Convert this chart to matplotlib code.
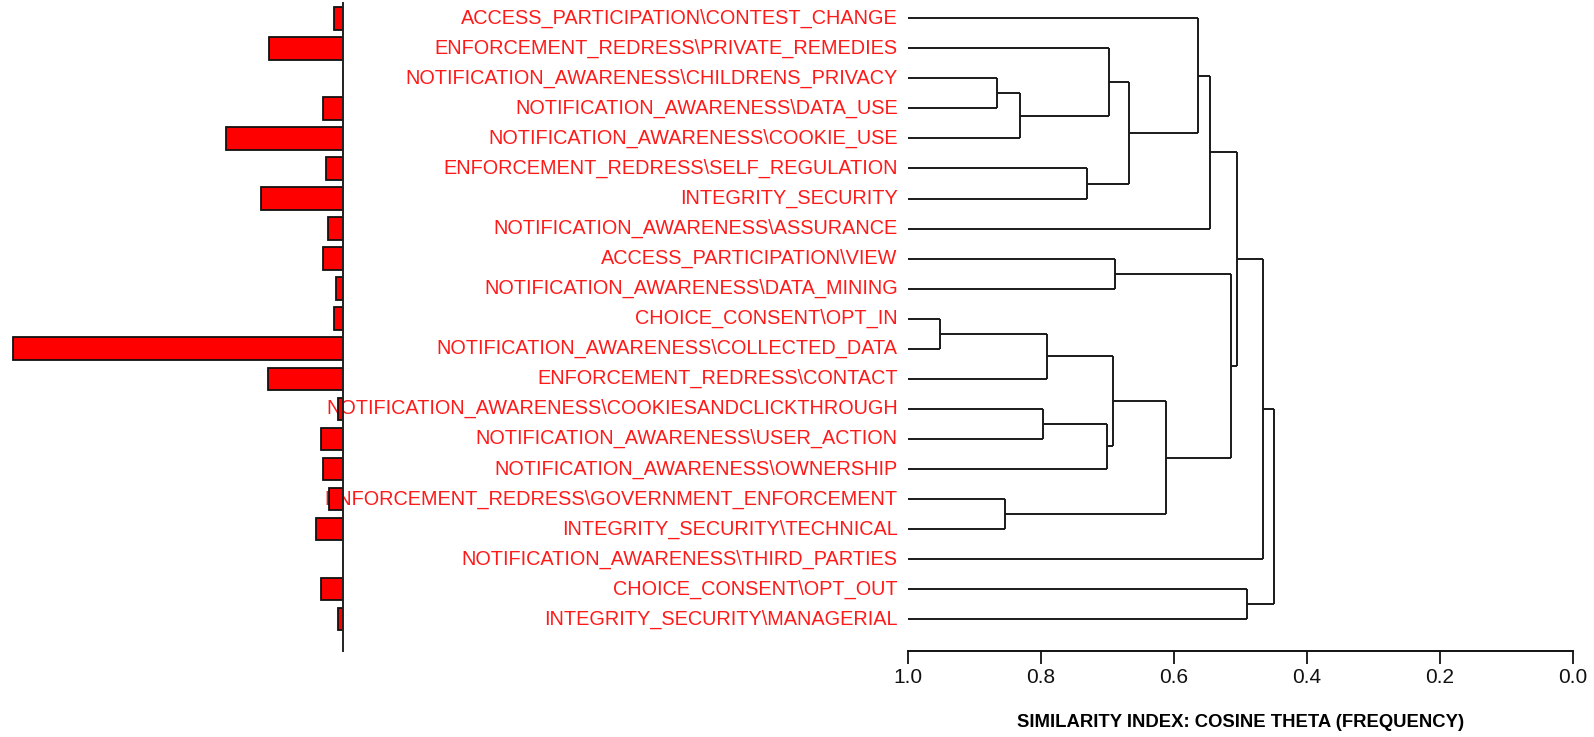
import matplotlib
matplotlib.use("Agg")
import matplotlib.pyplot as plt
from matplotlib import font_manager

labels = [
    "ACCESS_PARTICIPATION\\CONTEST_CHANGE",
    "ENFORCEMENT_REDRESS\\PRIVATE_REMEDIES",
    "NOTIFICATION_AWARENESS\\CHILDRENS_PRIVACY",
    "NOTIFICATION_AWARENESS\\DATA_USE",
    "NOTIFICATION_AWARENESS\\COOKIE_USE",
    "ENFORCEMENT_REDRESS\\SELF_REGULATION",
    "INTEGRITY_SECURITY",
    "NOTIFICATION_AWARENESS\\ASSURANCE",
    "ACCESS_PARTICIPATION\\VIEW",
    "NOTIFICATION_AWARENESS\\DATA_MINING",
    "CHOICE_CONSENT\\OPT_IN",
    "NOTIFICATION_AWARENESS\\COLLECTED_DATA",
    "ENFORCEMENT_REDRESS\\CONTACT",
    "NOTIFICATION_AWARENESS\\COOKIESANDCLICKTHROUGH",
    "NOTIFICATION_AWARENESS\\USER_ACTION",
    "NOTIFICATION_AWARENESS\\OWNERSHIP",
    "ENFORCEMENT_REDRESS\\GOVERNMENT_ENFORCEMENT",
    "INTEGRITY_SECURITY\\TECHNICAL",
    "NOTIFICATION_AWARENESS\\THIRD_PARTIES",
    "CHOICE_CONSENT\\OPT_OUT",
    "INTEGRITY_SECURITY\\MANAGERIAL",
]

frequency = [5, 44, 0, 12, 70, 10, 49, 9, 12, 4, 5, 198, 45, 3, 13, 12, 8, 16, 0, 13, 3]

# dendrogram merges: (child_a, child_b, similarity); leaves are 0..20, new nodes 21..
merge_a = [2, 21, 1, 5, 23, 0, 26, 8, 10, 29, 13, 31, 30, 16, 33, 28, 27, 37, 19, 38]
merge_b = [3, 4, 22, 6, 24, 25, 7, 9, 11, 12, 14, 15, 32, 17, 34, 35, 36, 18, 20, 39]
merge_h = [0.866, 0.831, 0.698, 0.731, 0.668, 0.563, 0.545, 0.688, 0.952, 0.791,
           0.796, 0.701, 0.691, 0.854, 0.611, 0.514, 0.505, 0.466, 0.490, 0.449]

sim_ticks = [1.0, 0.8, 0.6, 0.4, 0.2, 0.0]
x_title = "SIMILARITY INDEX: COSINE THETA (FREQUENCY)"

names = {f.name for f in font_manager.fontManager.ttflist}
narrow = "Liberation Sans Narrow" if "Liberation Sans Narrow" in names else "Liberation Sans"

W, H = 1594, 737
fig = plt.figure(figsize=(W / 100, H / 100), dpi=100)

n = len(labels)
row0, dy = 18.3, 30.04
top_px = row0 - 0.5 * dy
bot_px = 651.0
ybot = (bot_px - row0) / dy
ax_b = 1 - bot_px / H
ax_h = (bot_px - top_px) / H

x1, x0 = 907.8, 1572.6
axd = fig.add_axes([x1 / W, ax_b, (x0 - x1) / W, ax_h])
axd.set_xlim(1.0, 0.0)
axd.set_ylim(ybot, -0.5)
axd.set_facecolor("none")
for s in ["top", "left", "right"]:
    axd.spines[s].set_visible(False)
axd.spines["bottom"].set_linewidth(1.4)
axd.spines["bottom"].set_color("#111111")
axd.set_yticks([])
axd.set_xticks(sim_ticks)
axd.set_xticklabels([f"{t:.1f}" for t in sim_ticks], fontfamily=narrow, fontsize=15)
axd.tick_params(axis="x", direction="out", length=9.5, width=1.3, pad=3, colors="#111111")
axd.set_xlabel(x_title, fontfamily=narrow, fontweight="bold", fontsize=13.3, labelpad=19)

# dendrogram
pos_y = {i: float(i) for i in range(n)}
pos_x = {i: 1.0 for i in range(n)}
lc = "#1a1a1a"
for k, (a, b, h) in enumerate(zip(merge_a, merge_b, merge_h)):
    node = n + k
    ya, yb = pos_y[a], pos_y[b]
    axd.plot([pos_x[a], h], [ya, ya], color=lc, lw=1.4, solid_capstyle="butt")
    axd.plot([pos_x[b], h], [yb, yb], color=lc, lw=1.4, solid_capstyle="butt")
    axd.plot([h, h], [ya, yb], color=lc, lw=1.4, solid_capstyle="butt")
    pos_y[node] = (ya + yb) / 2
    pos_x[node] = h

for i, lab in enumerate(labels):
    axd.text(1.0 + 10 / 664.8, i, lab, ha="right", va="center", color="#ff1a1a",
             fontsize=14.3, fontfamily="Liberation Sans", clip_on=False)

# bar chart
bar_right = 342.7
unit_px = 1.667
axb = fig.add_axes([0, ax_b, bar_right / W, ax_h], zorder=5)
axb.set_facecolor("none")
axb.set_xlim(bar_right / unit_px, 0)
axb.set_ylim(ybot, -0.5)
axb.barh(range(n), frequency, height=0.75, color="#ff0000", edgecolor="#111111", linewidth=1.3)
for s in ["top", "left", "bottom"]:
    axb.spines[s].set_visible(False)
axb.spines["right"].set_linewidth(1.4)
axb.spines["right"].set_color("#222222")
axb.set_xticks([])
axb.set_yticks([])

fig.savefig("out.png", dpi=100, facecolor="white")
